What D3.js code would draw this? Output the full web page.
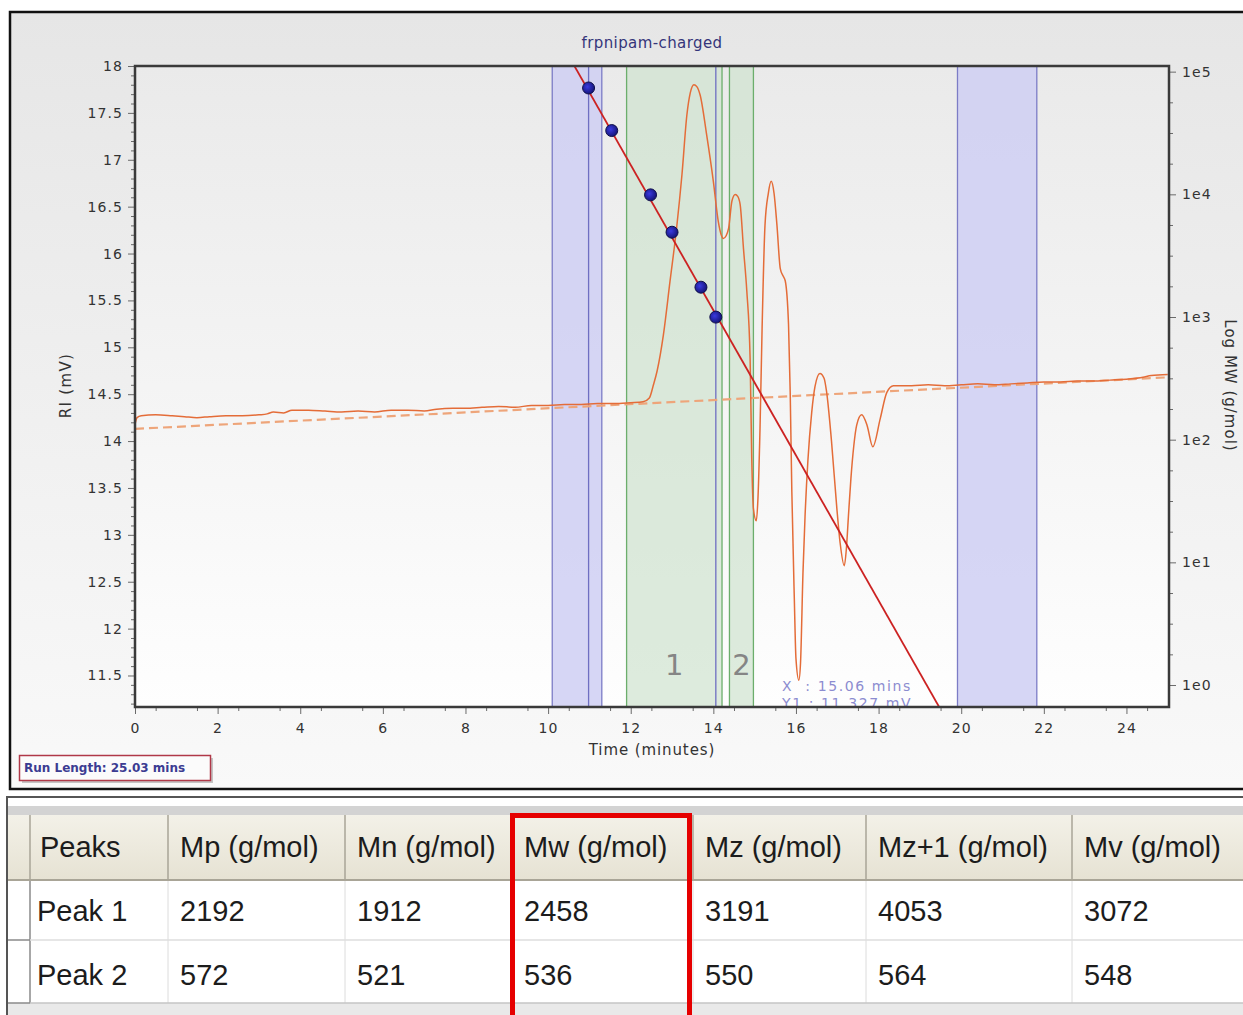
<!DOCTYPE html>
<html>
<head>
<meta charset="utf-8">
<title>frpnipam-charged</title>
<script src="https://cdn.jsdelivr.net/npm/d3@7"></script>
<style>
  body { margin: 0; background: #ffffff; }
  svg { display: block; font-family: "DejaVu Sans", Verdana, sans-serif; }
</style>
</head>
<body>
<svg id="chart" width="1243" height="1015"></svg>
<script>
// ---- Run data -------------------------------------------------------------
const sampleName = "frpnipam-charged";
const runLength = 25.03;               // minutes

// RI detector trace: retention time (min) and signal (mV)
const riTime = [
  0.00, 0.05, 0.15, 0.50, 0.90, 1.20, 1.50, 1.80, 2.20, 2.60, 3.00, 3.20, 3.35, 3.60, 3.80,
  4.20, 4.60, 5.00, 5.40, 5.80, 6.20, 6.60, 7.00, 7.30, 7.70, 8.00, 8.40, 8.80, 9.20, 9.60,
  10.00, 10.40, 10.80, 11.20, 11.60, 12.00, 12.30, 12.45, 12.55, 12.64, 12.79, 12.95, 13.11,
  13.24, 13.36, 13.44, 13.53, 13.60, 13.68, 13.84, 14.00, 14.12, 14.19, 14.24, 14.31, 14.37,
  14.45, 14.53, 14.59, 14.65, 14.73, 14.81, 14.89, 14.93, 14.97, 15.04, 15.08, 15.13, 15.18,
  15.25, 15.33, 15.40, 15.47, 15.54, 15.62, 15.69, 15.74, 15.82, 15.86, 15.90, 15.96, 16.00,
  16.07, 16.11, 16.17, 16.22, 16.29, 16.38, 16.46, 16.58, 16.68, 16.74, 16.86, 16.99, 17.07,
  17.17, 17.22, 17.27, 17.33, 17.40, 17.47, 17.59, 17.72, 17.86, 18.04, 18.20, 18.36, 18.52,
  18.80, 19.20, 19.60, 20.00, 20.40, 20.80, 21.20, 21.60, 22.00, 22.40, 22.80, 23.20, 23.60,
  24.00, 24.40, 24.60, 25.00
];
const riSignal = [
  14.18, 14.25, 14.27, 14.28, 14.27, 14.26, 14.25, 14.26, 14.27, 14.27, 14.28, 14.29, 14.31, 14.30, 14.33,
  14.33, 14.32, 14.31, 14.32, 14.31, 14.33, 14.33, 14.32, 14.34, 14.35, 14.35, 14.36, 14.37, 14.36, 14.38,
  14.38, 14.39, 14.39, 14.40, 14.40, 14.41, 14.42, 14.46, 14.60, 14.75, 15.13, 15.70, 16.27,
  16.84, 17.48, 17.71, 17.80, 17.78, 17.69, 17.26, 16.77, 16.34, 16.20, 16.16, 16.19, 16.27,
  16.56, 16.63, 16.61, 16.52, 16.05, 15.60, 14.88, 13.81, 13.28, 13.15, 13.39, 14.14, 15.20,
  16.30, 16.64, 16.77, 16.64, 16.30, 15.84, 15.76, 15.71, 15.24, 14.53, 13.46, 12.32, 11.68,
  11.45, 11.63, 12.60, 13.20, 13.80, 14.30, 14.58, 14.72, 14.67, 14.53, 14.00, 13.28, 12.91,
  12.67, 12.85, 13.20, 13.60, 13.95, 14.17, 14.28, 14.17, 13.94, 14.24, 14.52, 14.59, 14.59,
  14.59, 14.60, 14.59, 14.60, 14.61, 14.60, 14.61, 14.62, 14.63, 14.63, 14.64, 14.64, 14.65,
  14.66, 14.68, 14.70, 14.71
];

// Drawn baseline (dashed), end points
const baselineTime = [0, 25.03];
const baselineSignal = [14.13, 14.68];

// Calibration standards: retention time (min) and molecular weight (g/mol)
const calibTime = [10.98, 11.54, 12.48, 13.00, 13.70, 14.06];
const calibMW = [73600, 33100, 9900, 4910, 1750, 998];

// Calibration curve (log MW vs time), end points
const calibLineTime = [10.30, 19.80];
const calibLineMW = [176000, 0.42];

// Baseline regions (blue) and integration regions (green), in minutes
const baselineRegionStart = [10.10, 19.91];
const baselineRegionEnd = [11.30, 21.83];
const peakRegionStart = [11.90, 14.39];
const peakRegionEnd = [14.21, 14.97];
const peakLabels = ["1", "2"];

// Cursor readout
const cursorLines = ["X  : 15.06 mins", "Y1 : 11.327 mV"];

// Axis ticks
const riMajorTicks = [11.5, 12, 12.5, 13, 13.5, 14, 14.5, 15, 15.5, 16, 16.5, 17, 17.5, 18];
const timeMajorTicks = [0, 2, 4, 6, 8, 10, 12, 14, 16, 18, 20, 22, 24];
const mwMajorTicks = [1e0, 1e1, 1e2, 1e3, 1e4, 1e5];

// Results table
const tableColumns = ["Peaks", "Mp (g/mol)", "Mn (g/mol)", "Mw (g/mol)", "Mz (g/mol)", "Mz+1 (g/mol)", "Mv (g/mol)"];
const peakNames = ["Peak 1", "Peak 2"];
const mp = [2192, 572];
const mn = [1912, 521];
const mw = [2458, 536];
const mz = [3191, 550];
const mz1 = [4053, 564];
const mv = [3072, 548];

// ---- Layout ---------------------------------------------------------------
const svg = d3.select("#chart");
const plot = { left: 135, right: 1169, top: 66, bottom: 707 };

const x = d3.scaleLinear().domain([0, runLength]).range([plot.left, plot.right]);
const y = d3.scaleLinear().domain([11.164, 18]).range([plot.bottom, plot.top]);
const yMW = d3.scaleLog().domain([0.662, 111200]).range([plot.bottom, plot.top]);

const defs = svg.append("defs");
const panelGrad = defs.append("linearGradient").attr("id", "panelGrad")
  .attr("x1", 0).attr("y1", 0).attr("x2", 0).attr("y2", 1);
panelGrad.append("stop").attr("offset", 0).attr("stop-color", "#e6e6e6");
panelGrad.append("stop").attr("offset", 1).attr("stop-color", "#f9f9f9");
const plotGrad = defs.append("linearGradient").attr("id", "plotGrad")
  .attr("x1", 0).attr("y1", 0).attr("x2", 0).attr("y2", 1);
plotGrad.append("stop").attr("offset", 0).attr("stop-color", "#eaeaea");
plotGrad.append("stop").attr("offset", 1).attr("stop-color", "#fefefe");
const headGrad = defs.append("linearGradient").attr("id", "headGrad")
  .attr("x1", 0).attr("y1", 0).attr("x2", 0).attr("y2", 1);
headGrad.append("stop").attr("offset", 0).attr("stop-color", "#f3f1e8");
headGrad.append("stop").attr("offset", 1).attr("stop-color", "#e6e2d3");
const dotGrad = defs.append("radialGradient").attr("id", "dotGrad")
  .attr("cx", "40%").attr("cy", "40%").attr("r", "60%");
dotGrad.append("stop").attr("offset", 0).attr("stop-color", "#3a3ae0");
dotGrad.append("stop").attr("offset", 1).attr("stop-color", "#15157a");
defs.append("clipPath").attr("id", "plotClip").append("rect")
  .attr("x", plot.left).attr("y", plot.top)
  .attr("width", plot.right - plot.left).attr("height", plot.bottom - plot.top);

// ---- Chart panel ------------------------------------------------------------
svg.append("rect").attr("x", 10).attr("y", 12).attr("width", 1250).attr("height", 777)
  .attr("fill", "url(#panelGrad)").attr("stroke", "#111").attr("stroke-width", 2.5);

svg.append("rect").attr("x", plot.left).attr("y", plot.top)
  .attr("width", plot.right - plot.left).attr("height", plot.bottom - plot.top)
  .attr("fill", "url(#plotGrad)");

svg.append("text").attr("x", (plot.left + plot.right) / 2).attr("y", 48)
  .attr("text-anchor", "middle").attr("font-size", 15).attr("letter-spacing", 0.4)
  .attr("fill", "#35357a").text(sampleName);

const inner = svg.append("g").attr("clip-path", "url(#plotClip)");

// baseline regions
inner.selectAll("rect.base").data(baselineRegionStart).join("rect").attr("class", "base")
  .attr("x", (d) => x(d)).attr("y", plot.top)
  .attr("width", (d, i) => x(baselineRegionEnd[i]) - x(d)).attr("height", plot.bottom - plot.top)
  .attr("fill", "#cfcff3").attr("fill-opacity", 0.85)
  .attr("stroke", "#7c7cc6").attr("stroke-width", 1.3);

// peak integration regions
inner.selectAll("rect.peak").data(peakRegionStart).join("rect").attr("class", "peak")
  .attr("x", (d) => x(d)).attr("y", plot.top)
  .attr("width", (d, i) => x(peakRegionEnd[i]) - x(d)).attr("height", plot.bottom - plot.top)
  .attr("fill", "#cfe3cf").attr("fill-opacity", 0.7)
  .attr("stroke", "#6cae6c").attr("stroke-width", 1.3);

// calibration range markers at first and last standard
inner.selectAll("line.cal").data([calibTime[0], calibTime[calibTime.length - 1]]).join("line")
  .attr("class", "cal")
  .attr("x1", (d) => x(d)).attr("x2", (d) => x(d))
  .attr("y1", plot.top).attr("y2", plot.bottom)
  .attr("stroke", "#6f6fc2").attr("stroke-width", 1.3);

// peak numbers
inner.selectAll("text.plabel").data(peakLabels).join("text").attr("class", "plabel")
  .attr("x", (d, i) => x((peakRegionStart[i] + peakRegionEnd[i]) / 2))
  .attr("y", y(11.5))
  .attr("text-anchor", "middle").attr("font-size", 29).attr("fill", "#858585")
  .text((d) => d);

// dashed baseline
inner.append("line")
  .attr("x1", x(baselineTime[0])).attr("y1", y(baselineSignal[0]))
  .attr("x2", x(baselineTime[1])).attr("y2", y(baselineSignal[1]))
  .attr("stroke", "#eea57a").attr("stroke-width", 2.2).attr("stroke-dasharray", "9,5");

// RI trace
const riPoints = riTime.map((t, i) => [t, riSignal[i]]);
inner.append("path").datum(riPoints)
  .attr("d", d3.line().x((d) => x(d[0])).y((d) => y(d[1])).curve(d3.curveMonotoneX))
  .attr("fill", "none").attr("stroke", "#e46c38").attr("stroke-width", 1.5);

// calibration curve
inner.append("line")
  .attr("x1", x(calibLineTime[0])).attr("y1", yMW(calibLineMW[0]))
  .attr("x2", x(calibLineTime[1])).attr("y2", yMW(calibLineMW[1]))
  .attr("stroke", "#cc2222").attr("stroke-width", 1.8);

// calibration standards
inner.selectAll("circle.std").data(calibTime).join("circle").attr("class", "std")
  .attr("cx", (d) => x(d)).attr("cy", (d, i) => yMW(calibMW[i])).attr("r", 6)
  .attr("fill", "url(#dotGrad)").attr("stroke", "#10104a").attr("stroke-width", 1);

// cursor readout
inner.selectAll("text.cursor").data(cursorLines).join("text").attr("class", "cursor")
  .attr("x", 782).attr("y", (d, i) => 691 + i * 17)
  .attr("font-size", 14).attr("letter-spacing", 1.6).attr("fill", "#8c8cd0")
  .attr("xml:space", "preserve").style("white-space", "pre")
  .text((d) => d);

// ---- Axes ---------------------------------------------------------------
function styleAxis(g) {
  g.select(".domain").remove();
  g.selectAll(".tick line").attr("stroke", "#6a6a6a");
  g.selectAll(".tick text").attr("fill", "#333").attr("font-size", 14)
    .attr("font-family", "DejaVu Sans, Verdana, sans-serif").attr("letter-spacing", 1.1);
}

const riMinor = d3.range(112, 181).map((v) => v / 10).filter((v) => Math.round(v * 10) % 5 !== 0);
svg.append("g").attr("transform", `translate(${plot.left},0)`)
  .call(d3.axisLeft(y).tickValues(riMinor).tickSize(4).tickFormat(""))
  .call(styleAxis);
svg.append("g").attr("transform", `translate(${plot.left},0)`)
  .call(d3.axisLeft(y).tickValues(riMajorTicks).tickSize(7).tickPadding(5).tickFormat((d) => String(d)))
  .call(styleAxis);

const timeMinor = d3.range(1, 50, 2).map((v) => v / 2).filter((v) => v <= runLength);
svg.append("g").attr("transform", `translate(0,${plot.bottom})`)
  .call(d3.axisBottom(x).tickValues(timeMinor).tickSize(4).tickFormat(""))
  .call(styleAxis);
svg.append("g").attr("transform", `translate(0,${plot.bottom})`)
  .call(d3.axisBottom(x).tickValues(timeMajorTicks).tickSize(7).tickPadding(9).tickFormat((d) => String(d)))
  .call(styleAxis);

const mwMinor = d3.range(-0.75, 5.01, 0.25).filter((e) => Math.abs(e - Math.round(e)) > 0.01)
  .map((e) => Math.pow(10, e)).filter((v) => v >= 0.662 && v <= 111200);
svg.append("g").attr("transform", `translate(${plot.right},0)`)
  .call(d3.axisRight(yMW).tickValues(mwMinor).tickSize(4).tickFormat(""))
  .call(styleAxis);
svg.append("g").attr("transform", `translate(${plot.right},0)`)
  .call(d3.axisRight(yMW).tickValues(mwMajorTicks).tickSize(7).tickPadding(6)
    .tickFormat((d) => "1e" + Math.round(Math.log10(d))))
  .call(styleAxis);

// plot frame
svg.append("rect").attr("x", plot.left).attr("y", plot.top)
  .attr("width", plot.right - plot.left).attr("height", plot.bottom - plot.top)
  .attr("fill", "none").attr("stroke", "#3a3a3a").attr("stroke-width", 2.5);

// axis titles
svg.append("text").attr("transform", `translate(71,${(plot.top + plot.bottom) / 2 - 1}) rotate(-90)`)
  .attr("text-anchor", "middle").attr("font-size", 15).attr("letter-spacing", 1.3)
  .attr("fill", "#333").text("RI (mV)");
svg.append("text").attr("x", (plot.left + plot.right) / 2).attr("y", 755)
  .attr("text-anchor", "middle").attr("font-size", 15).attr("letter-spacing", 0.9)
  .attr("fill", "#333").text("Time (minutes)");
svg.append("text").attr("transform", `translate(1225,${(plot.top + plot.bottom) / 2 - 1}) rotate(90)`)
  .attr("text-anchor", "middle").attr("font-size", 15).attr("letter-spacing", 1.0)
  .attr("fill", "#333").text("Log MW (g/mol)");

// run length box
svg.append("rect").attr("x", 22).attr("y", 758).attr("width", 191).attr("height", 25).attr("fill", "#c4c4c4");
svg.append("rect").attr("x", 19.5).attr("y", 755.5).attr("width", 191).attr("height", 25)
  .attr("fill", "#fbfbfb").attr("stroke", "#b03848").attr("stroke-width", 1.5);
svg.append("text").attr("x", 24).attr("y", 772).attr("font-size", 12).attr("font-weight", "bold")
  .attr("fill", "#3c3c92").text("Run Length: " + runLength.toFixed(2) + " mins");

// ---- Results table --------------------------------------------------------
const colEdges = [30, 168, 345, 512, 693, 866, 1072, 1262];
const headTop = 815, headBottom = 880;
const rowBottoms = [940, 1003];
const rows = peakNames.map((n, i) => [n, mp[i], mn[i], mw[i], mz[i], mz1[i], mv[i]]);
const tfont = "'Liberation Sans', Arial, sans-serif";

const table = svg.append("g");
table.append("rect").attr("x", 7).attr("y", 797).attr("width", 1260).attr("height", 230)
  .attr("fill", "#ffffff").attr("stroke", "#555").attr("stroke-width", 2);
table.append("rect").attr("x", 8).attr("y", 806).attr("width", 1240).attr("height", 9).attr("fill", "#d3d3d3");
table.append("rect").attr("x", 8).attr("y", headTop).attr("width", 1240).attr("height", headBottom - headTop)
  .attr("fill", "url(#headGrad)");
table.append("rect").attr("x", 8).attr("y", 1003).attr("width", 1240).attr("height", 14).attr("fill", "#e9e9e9");

// header separators
table.selectAll("line.hsep").data(colEdges.slice(0, -1)).join("line").attr("class", "hsep")
  .attr("x1", (d) => d).attr("x2", (d) => d).attr("y1", headTop).attr("y2", headBottom)
  .attr("stroke", "#a9a597").attr("stroke-width", 1.5);
// body separators
table.selectAll("line.bsep").data(colEdges.slice(0, -1)).join("line").attr("class", "bsep")
  .attr("x1", (d) => d).attr("x2", (d) => d).attr("y1", headBottom).attr("y2", 1003)
  .attr("stroke", (d, i) => (i === 0 ? "#8a8a8a" : "#dcdcdc")).attr("stroke-width", (d, i) => (i === 0 ? 1.5 : 1));
// row lines
table.append("line").attr("x1", 8).attr("x2", 1243).attr("y1", headBottom).attr("y2", headBottom)
  .attr("stroke", "#a9a597").attr("stroke-width", 2);
table.selectAll("line.rsep").data(rowBottoms).join("line").attr("class", "rsep")
  .attr("x1", 30).attr("x2", 1243).attr("y1", (d) => d).attr("y2", (d) => d)
  .attr("stroke", (d, i) => (i === 0 ? "#dedede" : "#c4c4c4")).attr("stroke-width", 1.5);
table.selectAll("line.stub").data(rowBottoms).join("line").attr("class", "stub")
  .attr("x1", 8).attr("x2", 30).attr("y1", (d) => d).attr("y2", (d) => d)
  .attr("stroke", "#8a8a8a").attr("stroke-width", 1.5);

table.selectAll("text.head").data(tableColumns).join("text").attr("class", "head")
  .attr("x", (d, i) => colEdges[i] + (i === 0 ? 10 : 12)).attr("y", 857)
  .attr("font-family", tfont).attr("font-size", 29).attr("fill", "#1c1c1c").text((d) => d);

rows.forEach((r, ri) => {
  table.selectAll(`text.row${ri}`).data(r).join("text").attr("class", `row${ri}`)
    .attr("x", (d, i) => colEdges[i] + (i === 0 ? 7 : 12)).attr("y", 921 + ri * 64)
    .attr("font-family", tfont).attr("font-size", 29).attr("fill", "#1c1c1c").text((d) => d);
});

// highlighted Mw column
table.append("rect").attr("x", 512.5).attr("y", 815.5).attr("width", 177).attr("height", 210)
  .attr("fill", "none").attr("stroke", "#e60000").attr("stroke-width", 5);
</script>
